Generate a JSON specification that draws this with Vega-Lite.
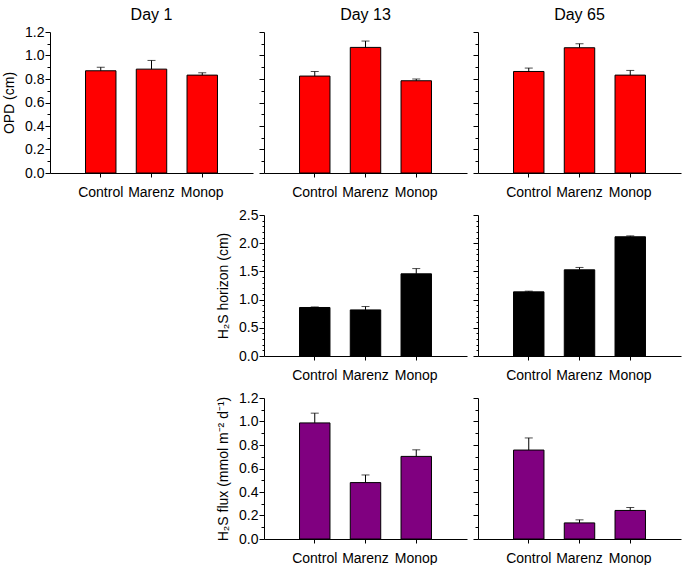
{
  "$schema": "https://vega.github.io/schema/vega-lite/v6.json",
  "padding": {"left": 2, "top": 7, "right": 1, "bottom": 5},
  "config": {
    "font": "Liberation Sans",
    "view": {"stroke": null},
    "axis": {"grid": false, "domainColor": "#000", "tickColor": "#000", "labelColor": "#000", "titleColor": "#000", "labelFont": "Liberation Sans", "titleFont": "Liberation Sans", "titleFontWeight": "normal"},
    "title": {"fontSize": 16, "fontWeight": "normal", "font": "Liberation Sans", "color": "#000", "offset": 2}
  },
  "data": {"values": [
    {"m": "OPD", "day": "Day 1", "group": "Control", "value": 0.87, "hi": 0.9},
    {"m": "OPD", "day": "Day 1", "group": "Marenz", "value": 0.884, "hi": 0.958},
    {"m": "OPD", "day": "Day 1", "group": "Monop", "value": 0.833, "hi": 0.853},
    {"m": "OPD", "day": "Day 13", "group": "Control", "value": 0.825, "hi": 0.864},
    {"m": "OPD", "day": "Day 13", "group": "Marenz", "value": 1.069, "hi": 1.123},
    {"m": "OPD", "day": "Day 13", "group": "Monop", "value": 0.785, "hi": 0.8},
    {"m": "OPD", "day": "Day 65", "group": "Control", "value": 0.864, "hi": 0.893},
    {"m": "OPD", "day": "Day 65", "group": "Marenz", "value": 1.066, "hi": 1.1},
    {"m": "OPD", "day": "Day 65", "group": "Monop", "value": 0.833, "hi": 0.873},
    {"m": "H2S", "day": "Day 13", "group": "Control", "value": 0.86, "hi": 0.87},
    {"m": "H2S", "day": "Day 13", "group": "Marenz", "value": 0.817, "hi": 0.877},
    {"m": "H2S", "day": "Day 13", "group": "Monop", "value": 1.457, "hi": 1.55},
    {"m": "H2S", "day": "Day 65", "group": "Control", "value": 1.137, "hi": 1.15},
    {"m": "H2S", "day": "Day 65", "group": "Marenz", "value": 1.528, "hi": 1.57},
    {"m": "H2S", "day": "Day 65", "group": "Monop", "value": 2.114, "hi": 2.13},
    {"m": "flux", "day": "Day 13", "group": "Control", "value": 0.988, "hi": 1.071},
    {"m": "flux", "day": "Day 13", "group": "Marenz", "value": 0.48, "hi": 0.545},
    {"m": "flux", "day": "Day 13", "group": "Monop", "value": 0.703, "hi": 0.759},
    {"m": "flux", "day": "Day 65", "group": "Control", "value": 0.757, "hi": 0.86},
    {"m": "flux", "day": "Day 65", "group": "Marenz", "value": 0.137, "hi": 0.163},
    {"m": "flux", "day": "Day 65", "group": "Monop", "value": 0.243, "hi": 0.268}
  ]},
  "columns": 3,
  "bounds": "flush",
  "spacing": {"row": 42, "column": 11},
  "concat": [
    {
      "title": "Day 1", "width": 203, "height": 141,
      "transform": [{"filter": "datum.m=='OPD' && datum.day=='Day 1'"}],
      "encoding": {"x": {"field": "group", "type": "nominal", "sort": ["Control", "Marenz", "Monop"], "scale": {"paddingInner": 0.4, "paddingOuter": 0.7}, "axis": {"title": null, "labelAngle": 0, "labelFontSize": 14, "tickSize": 4, "labelPadding": 8}}},
      "resolve": {"axis": {"y": "independent"}},
      "layer": [
        {"mark": {"type": "bar", "fill": "#ff0000", "stroke": "#000", "strokeWidth": 1}, "encoding": {"y": {"field": "value", "type": "quantitative", "scale": {"domain": [0, 1.2], "nice": false}, "axis": {"title": "OPD (cm)", "titleFontSize": 14, "titlePadding": 8, "labelFontSize": 14, "labelPadding": 1, "values": [0, 0.1, 0.2, 0.3, 0.4, 0.5, 0.6, 0.7, 0.8, 0.9, 1.0, 1.1, 1.2], "labelExpr": "round(datum.value*10)%2==0 ? format(datum.value,'.1f') : ''", "tickSize": {"condition": {"test": "round(datum.value*10)%2!=0", "value": 3}, "value": 5}}}}},
        {"mark": {"type": "rule", "color": "#000", "strokeWidth": 1}, "encoding": {"y": {"field": "value", "type": "quantitative", "axis": null}, "y2": {"field": "hi"}}},
        {"mark": {"type": "tick", "color": "#000", "thickness": 1, "size": 8}, "encoding": {"y": {"field": "hi", "type": "quantitative", "axis": null}}}
      ]
    },
    {
      "title": "Day 13", "width": 203, "height": 141,
      "transform": [{"filter": "datum.m=='OPD' && datum.day=='Day 13'"}],
      "encoding": {"x": {"field": "group", "type": "nominal", "sort": ["Control", "Marenz", "Monop"], "scale": {"paddingInner": 0.4, "paddingOuter": 0.7}, "axis": {"title": null, "labelAngle": 0, "labelFontSize": 14, "tickSize": 4, "labelPadding": 8}}},
      "resolve": {"axis": {"y": "independent"}},
      "layer": [
        {"mark": {"type": "bar", "fill": "#ff0000", "stroke": "#000", "strokeWidth": 1}, "encoding": {"y": {"field": "value", "type": "quantitative", "scale": {"domain": [0, 1.2], "nice": false}, "axis": {"title": null, "labelOpacity": 0, "labelFontSize": 14, "labelPadding": 1, "values": [0, 0.1, 0.2, 0.3, 0.4, 0.5, 0.6, 0.7, 0.8, 0.9, 1.0, 1.1, 1.2], "labelExpr": "round(datum.value*10)%2==0 ? format(datum.value,'.1f') : ''", "tickSize": {"condition": {"test": "round(datum.value*10)%2!=0", "value": 3}, "value": 5}}}}},
        {"mark": {"type": "rule", "color": "#000", "strokeWidth": 1}, "encoding": {"y": {"field": "value", "type": "quantitative", "axis": null}, "y2": {"field": "hi"}}},
        {"mark": {"type": "tick", "color": "#000", "thickness": 1, "size": 8}, "encoding": {"y": {"field": "hi", "type": "quantitative", "axis": null}}}
      ]
    },
    {
      "title": "Day 65", "width": 203, "height": 141,
      "transform": [{"filter": "datum.m=='OPD' && datum.day=='Day 65'"}],
      "encoding": {"x": {"field": "group", "type": "nominal", "sort": ["Control", "Marenz", "Monop"], "scale": {"paddingInner": 0.4, "paddingOuter": 0.7}, "axis": {"title": null, "labelAngle": 0, "labelFontSize": 14, "tickSize": 4, "labelPadding": 8}}},
      "resolve": {"axis": {"y": "independent"}},
      "layer": [
        {"mark": {"type": "bar", "fill": "#ff0000", "stroke": "#000", "strokeWidth": 1}, "encoding": {"y": {"field": "value", "type": "quantitative", "scale": {"domain": [0, 1.2], "nice": false}, "axis": {"title": null, "labelOpacity": 0, "labelFontSize": 14, "labelPadding": 1, "values": [0, 0.1, 0.2, 0.3, 0.4, 0.5, 0.6, 0.7, 0.8, 0.9, 1.0, 1.1, 1.2], "labelExpr": "round(datum.value*10)%2==0 ? format(datum.value,'.1f') : ''", "tickSize": {"condition": {"test": "round(datum.value*10)%2!=0", "value": 3}, "value": 5}}}}},
        {"mark": {"type": "rule", "color": "#000", "strokeWidth": 1}, "encoding": {"y": {"field": "value", "type": "quantitative", "axis": null}, "y2": {"field": "hi"}}},
        {"mark": {"type": "tick", "color": "#000", "thickness": 1, "size": 8}, "encoding": {"y": {"field": "hi", "type": "quantitative", "axis": null}}}
      ]
    },
    {
      "width": 203, "height": 141,
      "transform": [{"filter": "datum.m=='none'"}],
      "mark": {"type": "point", "opacity": 0},
      "encoding": {}
    },
    {
      "width": 203, "height": 141,
      "transform": [{"filter": "datum.m=='H2S' && datum.day=='Day 13'"}],
      "encoding": {"x": {"field": "group", "type": "nominal", "sort": ["Control", "Marenz", "Monop"], "scale": {"paddingInner": 0.4, "paddingOuter": 0.7}, "axis": {"title": null, "labelAngle": 0, "labelFontSize": 14, "tickSize": 4, "labelPadding": 8}}},
      "resolve": {"axis": {"y": "independent"}},
      "layer": [
        {"mark": {"type": "bar", "fill": "#000000", "stroke": "#000", "strokeWidth": 1}, "encoding": {"y": {"field": "value", "type": "quantitative", "scale": {"domain": [0, 2.5], "nice": false}, "axis": {"title": "H₂S horizon (cm)", "titleFontSize": 14, "titlePadding": 8, "labelFontSize": 14, "labelPadding": 1, "values": [0, 0.1, 0.2, 0.3, 0.4, 0.5, 0.6, 0.7, 0.8, 0.9, 1.0, 1.1, 1.2, 1.3, 1.4, 1.5, 1.6, 1.7, 1.8, 1.9, 2.0, 2.1, 2.2, 2.3, 2.4, 2.5], "labelExpr": "round(datum.value*10)%5==0 ? format(datum.value,'.1f') : ''", "tickSize": {"condition": {"test": "round(datum.value*10)%5!=0", "value": 2}, "value": 5}}}}},
        {"mark": {"type": "rule", "color": "#000", "strokeWidth": 1}, "encoding": {"y": {"field": "value", "type": "quantitative", "axis": null}, "y2": {"field": "hi"}}},
        {"mark": {"type": "tick", "color": "#000", "thickness": 1, "size": 8}, "encoding": {"y": {"field": "hi", "type": "quantitative", "axis": null}}}
      ]
    },
    {
      "width": 203, "height": 141,
      "transform": [{"filter": "datum.m=='H2S' && datum.day=='Day 65'"}],
      "encoding": {"x": {"field": "group", "type": "nominal", "sort": ["Control", "Marenz", "Monop"], "scale": {"paddingInner": 0.4, "paddingOuter": 0.7}, "axis": {"title": null, "labelAngle": 0, "labelFontSize": 14, "tickSize": 4, "labelPadding": 8}}},
      "resolve": {"axis": {"y": "independent"}},
      "layer": [
        {"mark": {"type": "bar", "fill": "#000000", "stroke": "#000", "strokeWidth": 1}, "encoding": {"y": {"field": "value", "type": "quantitative", "scale": {"domain": [0, 2.5], "nice": false}, "axis": {"title": null, "labels": false, "values": [0, 0.1, 0.2, 0.3, 0.4, 0.5, 0.6, 0.7, 0.8, 0.9, 1.0, 1.1, 1.2, 1.3, 1.4, 1.5, 1.6, 1.7, 1.8, 1.9, 2.0, 2.1, 2.2, 2.3, 2.4, 2.5], "tickSize": {"condition": {"test": "round(datum.value*10)%5!=0", "value": 2}, "value": 5}}}}},
        {"mark": {"type": "rule", "color": "#000", "strokeWidth": 1}, "encoding": {"y": {"field": "value", "type": "quantitative", "axis": null}, "y2": {"field": "hi"}}},
        {"mark": {"type": "tick", "color": "#000", "thickness": 1, "size": 8}, "encoding": {"y": {"field": "hi", "type": "quantitative", "axis": null}}}
      ]
    },
    {
      "width": 203, "height": 141,
      "transform": [{"filter": "datum.m=='none'"}],
      "mark": {"type": "point", "opacity": 0},
      "encoding": {}
    },
    {
      "width": 203, "height": 141,
      "transform": [{"filter": "datum.m=='flux' && datum.day=='Day 13'"}],
      "encoding": {"x": {"field": "group", "type": "nominal", "sort": ["Control", "Marenz", "Monop"], "scale": {"paddingInner": 0.4, "paddingOuter": 0.7}, "axis": {"title": null, "labelAngle": 0, "labelFontSize": 14, "tickSize": 4, "labelPadding": 8}}},
      "resolve": {"axis": {"y": "independent"}},
      "layer": [
        {"mark": {"type": "bar", "fill": "#800080", "stroke": "#000", "strokeWidth": 1}, "encoding": {"y": {"field": "value", "type": "quantitative", "scale": {"domain": [0, 1.2], "nice": false}, "axis": {"title": "H₂S flux (mmol m⁻² d⁻¹)", "titleFontSize": 14, "titlePadding": 8, "labelFontSize": 14, "labelPadding": 1, "values": [0, 0.1, 0.2, 0.3, 0.4, 0.5, 0.6, 0.7, 0.8, 0.9, 1.0, 1.1, 1.2], "labelExpr": "round(datum.value*10)%2==0 ? format(datum.value,'.1f') : ''", "tickSize": {"condition": {"test": "round(datum.value*10)%2!=0", "value": 3}, "value": 5}}}}},
        {"mark": {"type": "rule", "color": "#000", "strokeWidth": 1}, "encoding": {"y": {"field": "value", "type": "quantitative", "axis": null}, "y2": {"field": "hi"}}},
        {"mark": {"type": "tick", "color": "#000", "thickness": 1, "size": 8}, "encoding": {"y": {"field": "hi", "type": "quantitative", "axis": null}}}
      ]
    },
    {
      "width": 203, "height": 141,
      "transform": [{"filter": "datum.m=='flux' && datum.day=='Day 65'"}],
      "encoding": {"x": {"field": "group", "type": "nominal", "sort": ["Control", "Marenz", "Monop"], "scale": {"paddingInner": 0.4, "paddingOuter": 0.7}, "axis": {"title": null, "labelAngle": 0, "labelFontSize": 14, "tickSize": 4, "labelPadding": 8}}},
      "resolve": {"axis": {"y": "independent"}},
      "layer": [
        {"mark": {"type": "bar", "fill": "#800080", "stroke": "#000", "strokeWidth": 1}, "encoding": {"y": {"field": "value", "type": "quantitative", "scale": {"domain": [0, 1.2], "nice": false}, "axis": {"title": null, "labels": false, "values": [0, 0.1, 0.2, 0.3, 0.4, 0.5, 0.6, 0.7, 0.8, 0.9, 1.0, 1.1, 1.2], "tickSize": {"condition": {"test": "round(datum.value*10)%2!=0", "value": 3}, "value": 5}}}}},
        {"mark": {"type": "rule", "color": "#000", "strokeWidth": 1}, "encoding": {"y": {"field": "value", "type": "quantitative", "axis": null}, "y2": {"field": "hi"}}},
        {"mark": {"type": "tick", "color": "#000", "thickness": 1, "size": 8}, "encoding": {"y": {"field": "hi", "type": "quantitative", "axis": null}}}
      ]
    }
  ]
}
